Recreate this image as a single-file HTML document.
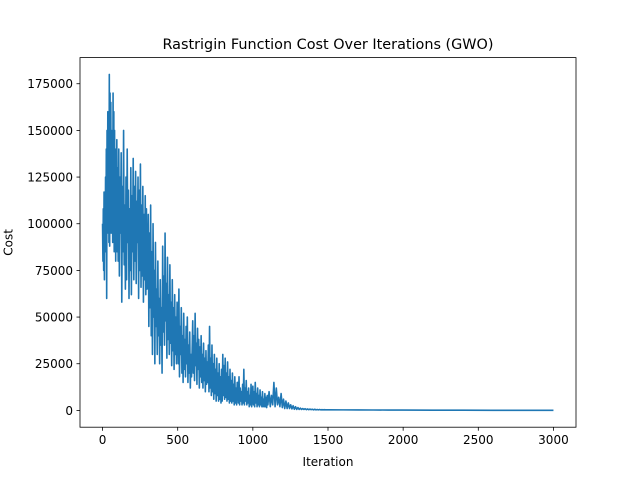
<!DOCTYPE html>
<html><head><meta charset="utf-8"><style>
html,body{margin:0;padding:0;background:#fff;}
svg{display:block;font-family:"DejaVu Sans","Liberation Sans",sans-serif;}
</style></head><body>
<svg id="chart" width="640" height="480" viewBox="0 0 640 480">
<rect x="0" y="0" width="640" height="480" fill="#fff"/>
<text x="328" y="49" font-size="14.4" text-anchor="middle">Rastrigin Function Cost Over Iterations (GWO)</text>
<g id="plot"></g>
<rect x="80" y="57.6" width="496" height="369.6" fill="none" stroke="#000" stroke-width="0.8"/>
<g id="xticks"></g>
<g id="yticks"></g>
<text x="328" y="466" font-size="12" text-anchor="middle">Iteration</text>
<text transform="translate(12.5,242.4) rotate(-90)" font-size="12" text-anchor="middle">Cost</text>
</svg>
<script>
// segment definitions: [startIteration, step] with cost values in thousands
const segStarts = [0, 100, 300, 500, 700, 900, 1100, 1300];
const segSteps = [2.5, 4, 4, 4, 4, 4, 8, 8];
const segCosts = [
 [100,80,108,75,117,70,112,90,125,85,140,60,150,95,160,100,155,90,180,88,170,105,165,95,150,100,145,90,170,95,160,85,150,100,140,80,135,95,145,85],
 [130,80,140,72,125,95,138,58,120,85,150,78,110,65,125,70,140,90,118,60,108,75,130,62,115,85,135,70,120,80,128,68,112,90,125,60,118,75,132,66,110,72,120,58,105,70,115,62,108,65],
 [70,105,45,95,55,110,40,85,30,100,50,75,25,90,45,65,30,80,40,60,25,70,35,55,20,88,42,72,35,95,48,68,28,82,38,62,30,78,36,58,24,70,32,55,22,62,30,50,25,58],
 [50,25,65,18,45,30,55,20,40,15,52,22,38,18,45,25,50,15,35,20,42,12,30,18,32,48,20,40,16,52,24,36,14,44,22,38,12,34,18,40,15,30,12,36,16,28,10,32,14,26],
 [15,35,10,45,12,28,8,35,10,25,6,30,9,22,5,28,8,20,5,25,6,18,4,22,5,30,8,24,6,28,7,20,5,26,6,18,4,22,5,16,4,20,5,14,3,18,4,12,3,15],
 [15,4,18,3,12,5,10,3,14,4,22,3,12,5,16,3,10,4,12,2,8,3,14,2,9,13,3,10,2,15,4,9,2,12,3,8,2,11,3,7,2,10,2,6,2,9,2,7,1.5,8],
 [3,10,2,8,3,15,2,12,3,7,2,9,1.5,6,1,5,1,4,1,3,0.8,2.5,0.6,2,0.5],
 [1.5,0.5,1.2,0.5,1,0.5,0.9,0.4,0.8,0.4,0.7,0.4,0.6,0.3,0.6,0.3,0.5,0.3,0.5,0.3,0.4,0.3,0.4,0.3,0.3]
];
const tailIterations = [1500,1600,1700,1800,1900,2000,2200,2400,2600,2800,3000];
const tailCosts = [0.3,0.28,0.25,0.22,0.2,0.18,0.14,0.1,0.07,0.04,0.02];
const xTicks = [0,500,1000,1500,2000,2500,3000];
const yTicks = [0,25000,50000,75000,100000,125000,150000,175000];

const NS = "http://www.w3.org/2000/svg";
const L=80, R=576, T=57.6, B=427.2;
const xMin=-150, xMax=3150, yMin=-9000, yMax=189000;
function sx(v){return L+(v-xMin)/(xMax-xMin)*(R-L);}
function sy(v){return B-(v-yMin)/(yMax-yMin)*(B-T);}

const iters=[], costs=[];
segCosts.forEach((arr,i)=>{arr.forEach((c,j)=>{iters.push(segStarts[i]+j*segSteps[i]);costs.push(c*1000);});});
tailIterations.forEach((it,i)=>{iters.push(it);costs.push(tailCosts[i]*1000);});

const plot=document.getElementById('plot');
const line=document.createElementNS(NS,'polyline');
line.setAttribute('points',iters.map((it,i)=>sx(it).toFixed(2)+','+sy(costs[i]).toFixed(2)).join(' '));
line.setAttribute('fill','none');
line.setAttribute('stroke','#1f77b4');
line.setAttribute('stroke-width','1.6');
line.setAttribute('stroke-linejoin','round');


plot.appendChild(line);

const xg=document.getElementById('xticks');
xTicks.forEach(v=>{
  const t=document.createElementNS(NS,'line');
  t.setAttribute('x1',sx(v));t.setAttribute('x2',sx(v));t.setAttribute('y1',B);t.setAttribute('y2',B+3.5);
  t.setAttribute('stroke','#000');t.setAttribute('stroke-width','0.8');
  
  
  xg.appendChild(t);
  const s=document.createElementNS(NS,'text');
  s.setAttribute('x',sx(v));s.setAttribute('y',B+17);s.setAttribute('font-size','12');s.setAttribute('text-anchor','middle');
  s.textContent=String(v);
  
  
  xg.appendChild(s);
});
const yg=document.getElementById('yticks');
yTicks.forEach(v=>{
  const t=document.createElementNS(NS,'line');
  t.setAttribute('x1',L-3.5);t.setAttribute('x2',L);t.setAttribute('y1',sy(v));t.setAttribute('y2',sy(v));
  t.setAttribute('stroke','#000');t.setAttribute('stroke-width','0.8');
  
  
  yg.appendChild(t);
  const s=document.createElementNS(NS,'text');
  s.setAttribute('x',L-7);s.setAttribute('y',sy(v)+4.5);s.setAttribute('font-size','12');s.setAttribute('text-anchor','end');
  s.textContent=String(v);
  
  
  yg.appendChild(s);
});
</script>
</body></html>
